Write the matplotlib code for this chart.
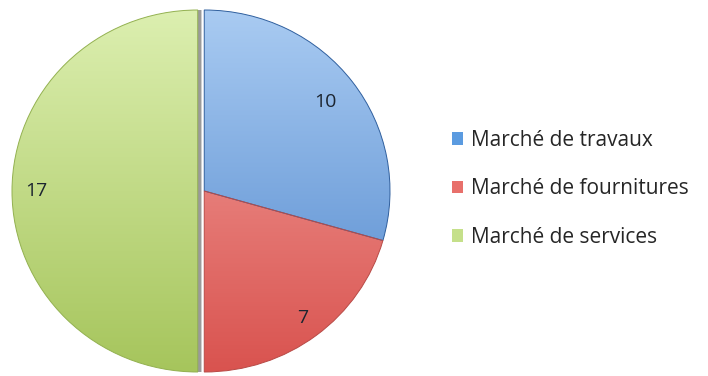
import matplotlib.pyplot as plt
import numpy as np
from matplotlib.patches import Patch, Wedge
from matplotlib.colors import LinearSegmentedColormap

labels = ['Marché de travaux', 'Marché de fournitures', 'Marché de services']
values = [10, 7, 17]
explode = [0, 0, 0.035]
# gradient (top colour, bottom colour) per slice
grad_top = ['#a9cbf2', '#f4a6a2', '#dcefb0']
grad_bot = ['#4f86cc', '#d9534f', '#a6c55c']
legend_colors = ['#5b9be0', '#e8706b', '#c5e08a']
label_dist = [0.82, 0.88, 0.87]

plt.rcParams['font.family'] = ['Open Sans', 'DejaVu Sans']

fig = plt.figure(figsize=(7.08, 3.76), dpi=100)
# pie box in pixels: x 12..390, y 10..372 (from top)
ax = fig.add_axes([12 / 708, 4 / 376, 378 / 708, 362 / 376])

wedges, texts = ax.pie(values, explode=explode, startangle=90, counterclock=False,
                       wedgeprops=dict(linewidth=0))

# shadow behind the exploded slice
shadow = Wedge((-0.035 + 0.02, 0), 1.0, 90, 270, facecolor='#9a9a9a',
               linewidth=0, zorder=0)
ax.add_patch(shadow)

grad = np.linspace(0, 1, 256).reshape(-1, 1)
for w, t, b in zip(wedges, grad_top, grad_bot):
    w.set_facecolor('none')
    cmap = LinearSegmentedColormap.from_list('g', [t, b])
    im = ax.imshow(grad, cmap=cmap, extent=[-1.1, 1.1, -1.0, 1.0],
                   origin='upper', aspect='auto', zorder=1)
    im.set_clip_path(w)

for w, c in zip(wedges, ['#2f5f9e', '#b84a46', '#93b150']):
    w.set_edgecolor(c)
    w.set_linewidth(0.7)
    w.set_zorder(2)

# value labels inside the slices
for w, v, d in zip(wedges, values, label_dist):
    ang = np.deg2rad((w.theta1 + w.theta2) / 2)
    cx, cy = w.center
    ax.text(cx + d * np.cos(ang), cy + d * np.sin(ang), str(v), ha='center',
            va='center', fontsize=14, color='#1c2530', zorder=3)

ax.set_xlim(-1.035, 1.0)
ax.set_ylim(-1.0, 1.0)
ax.set_aspect('auto')
ax.axis('off')

handles = [Patch(facecolor=c, edgecolor='none') for c in legend_colors]
fig.legend(handles, labels, loc='center left', bbox_to_anchor=(452 / 708, 1 - 189 / 376),
           frameon=False, fontsize=15, handlelength=0.55, handleheight=0.55,
           handletextpad=0.35, labelspacing=1.32, borderpad=0, borderaxespad=0,
           labelcolor='#262626')

fig.savefig('out.png', dpi=100)
